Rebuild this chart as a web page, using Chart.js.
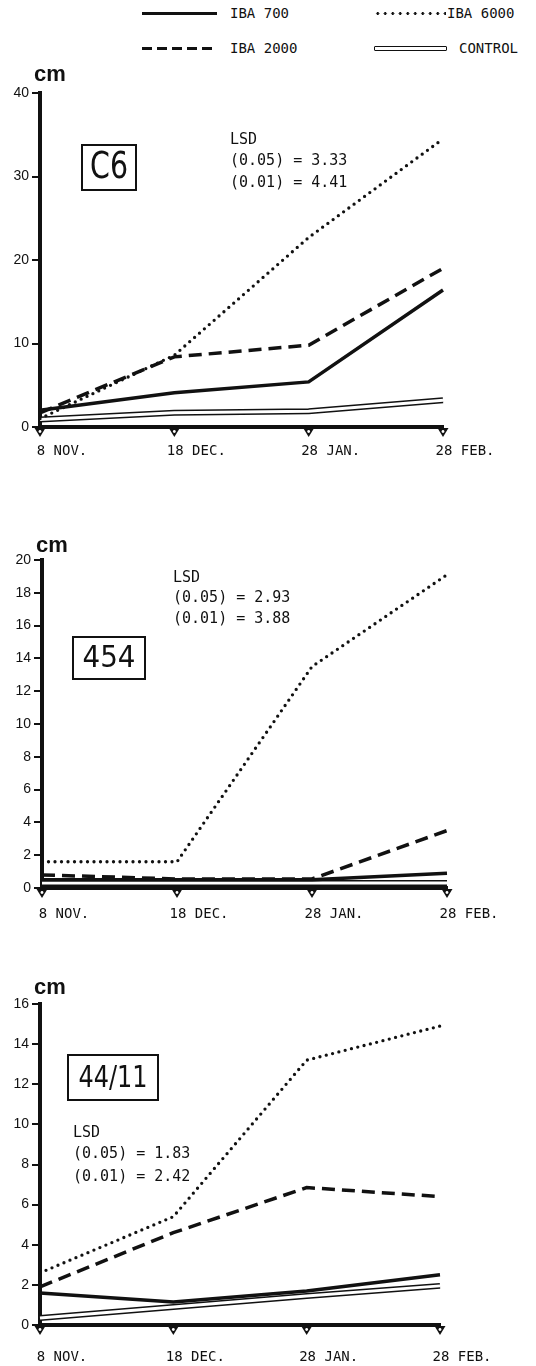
<!DOCTYPE html>
<html>
<head>
<meta charset="utf-8">
<script src="https://cdn.jsdelivr.net/npm/chart.js@4.4.0/dist/chart.umd.min.js"></script>
<style>
  html, body { margin: 0; padding: 0; background: #fff; }
  body { width: 536px; height: 1366px; position: relative; overflow: hidden;
         font-family: "DejaVu Sans Mono", monospace; color: #111; }
  .panel { position: absolute; left: 0; width: 536px; }
  .lg-text { position: absolute; font-size: 14px; line-height: 16px; white-space: pre; }
  .sw { position: absolute; }
  .sw-solid { height: 3px; background: #111; }
  .sw-dash { height: 3px; background: repeating-linear-gradient(90deg, #111 0 10px, transparent 10px 15px); }
  .sw-dot { height: 3px; background: radial-gradient(circle, #111 1.3px, transparent 1.6px) 0 0 / 7.5px 3px repeat-x; }
  .sw-ctrl { height: 3px; border: 1.5px solid #111; background: #fff; border-radius: 1px; }
</style>
</head>
<body>

<!-- legend -->
<div class="sw sw-solid" style="left:142px;top:12px;width:75px;"></div>
<div class="lg-text" style="left:230px;top:5px;">IBA 700</div>
<div class="sw sw-dot" style="left:374px;top:12px;width:72px;"></div>
<div class="lg-text" style="left:447px;top:5px;">IBA 6000</div>
<div class="sw sw-dash" style="left:142px;top:47px;width:75px;"></div>
<div class="lg-text" style="left:230px;top:40px;">IBA 2000</div>
<div class="sw sw-ctrl" style="left:374px;top:46px;width:71px;"></div>
<div class="lg-text" style="left:459px;top:40px;">CONTROL</div>

<div class="panel" style="top:60px;height:410px;"><canvas id="c6" width="536" height="410"></canvas></div>
<div class="panel" style="top:530px;height:400px;"><canvas id="p454" width="536" height="400"></canvas></div>
<div class="panel" style="top:970px;height:396px;"><canvas id="p4411" width="536" height="396"></canvas></div>

<script>
// sampling dates (shoot length in cm)
const dates = ['8 NOV.', '18 DEC.', '28 JAN.', '28 FEB.'];

// clone C6
const c6Iba700  = [2.0, 4.1, 5.4, 16.4];
const c6Iba2000 = [1.7, 8.4, 9.8, 19.0];
const c6Iba6000 = [1.0, 8.6, 22.7, 34.5];
const c6Control = [0.9, 1.7, 1.9, 3.2];
const c6YMax = 40, c6YStep = 10;
const c6Lsd = ['LSD', '(0.05) = 3.33', '(0.01) = 4.41'];

// clone 454
const p454Iba700  = [0.5, 0.5, 0.5, 0.9];
const p454Iba2000 = [0.8, 0.55, 0.55, 3.5];
const p454Iba6000 = [1.6, 1.6, 13.5, 19.1];
const p454Control = [0.3, 0.3, 0.3, 0.3];
const p454YMax = 20, p454YStep = 2;
const p454Lsd = ['LSD', '(0.05) = 2.93', '(0.01) = 3.88'];

// clone 44/11
const p4411Iba700  = [1.6, 1.15, 1.7, 2.5];
const p4411Iba2000 = [1.9, 4.6, 6.85, 6.4];
const p4411Iba6000 = [2.6, 5.4, 13.2, 14.9];
const p4411Control = [0.35, 0.9, 1.45, 1.95];
const p4411YMax = 16, p4411YStep = 2;
const p4411Lsd = ['LSD', '(0.05) = 1.83', '(0.01) = 2.42'];

const INK = '#111';

// downward triangles under each sampling date on the baseline
const dateMarkers = {
  id: 'dateMarkers',
  afterDraw(chart) {
    const ctx = chart.ctx, xs = chart.scales.x, b = chart.chartArea.bottom;
    ctx.save();
    xs.ticks.forEach((t, i) => {
      const x = xs.getPixelForTick(i);
      ctx.beginPath();
      ctx.moveTo(x - 5.5, b + 1);
      ctx.lineTo(x + 5.5, b + 1);
      ctx.lineTo(x, b + 10);
      ctx.closePath();
      ctx.fillStyle = INK;
      ctx.fill();
      ctx.beginPath();
      ctx.arc(x, b + 4.5, 1.4, 0, Math.PI * 2);
      ctx.fillStyle = '#fff';
      ctx.fill();
    });
    ctx.restore();
  }
};

// the control series is drawn as an open double line
const openLine = {
  id: 'openLine',
  afterDatasetDraw(chart, args) {
    const ds = chart.data.datasets[args.index];
    if (!ds.openLine) return;
    const pts = args.meta.data;
    const ctx = chart.ctx;
    ctx.save();
    ctx.beginPath();
    pts.forEach((p, i) => (i ? ctx.lineTo(p.x, p.y) : ctx.moveTo(p.x, p.y)));
    ctx.strokeStyle = '#fff';
    ctx.lineWidth = 3;
    ctx.lineJoin = 'round';
    ctx.lineCap = 'butt';
    ctx.stroke();
    ctx.restore();
  }
};

// unit label, clone label box and LSD values
const panelText = {
  id: 'panelText',
  afterDraw(chart, args, o) {
    const ctx = chart.ctx;
    ctx.save();
    ctx.fillStyle = INK;
    ctx.strokeStyle = INK;
    // unit
    ctx.font = 'bold 22px "Liberation Sans", Arial, sans-serif';
    ctx.textAlign = 'center';
    ctx.textBaseline = 'middle';
    ctx.fillText('cm', o.cm[0], o.cm[1]);
    // clone box
    const bx = o.box;
    ctx.lineWidth = 2;
    ctx.strokeRect(bx.x, bx.y, bx.w, bx.h);
    ctx.font = bx.size + 'px "DejaVu Sans", sans-serif';
    const mw = ctx.measureText(bx.text).width;
    ctx.save();
    ctx.translate(bx.x + bx.w / 2, bx.y + bx.h / 2 + 1);
    ctx.scale(bx.textW / mw, 1);
    ctx.fillText(bx.text, 0, 0);
    ctx.restore();
    // LSD
    ctx.font = '15px "DejaVu Sans Mono", monospace';
    ctx.textAlign = 'left';
    o.lsd.lines.forEach((s, i) => ctx.fillText(s, o.lsd.x, o.lsd.ys[i]));
    ctx.restore();
  }
};

function panel(id, geo, yMax, yStep, series, text) {
  const H = geo.height;
  const xHeight = geo.top + H - geo.bottom;
  const base = { fill: false, pointRadius: 0, tension: 0, clip: false, borderColor: INK,
                 borderJoinStyle: 'miter', borderCapStyle: 'butt' };
  // shift page coordinates into canvas coordinates
  const dy = v => v - geo.top;
  return new Chart(document.getElementById(id), {
    type: 'line',
    data: {
      labels: dates,
      datasets: [
        Object.assign({}, base, { label: 'IBA 700', data: series[0], borderWidth: 3.5 }),
        Object.assign({}, base, { label: 'IBA 2000', data: series[1], borderWidth: 3.5, borderDash: [13, 7] }),
        Object.assign({}, base, { label: 'IBA 6000', data: series[2], borderWidth: 3.3, borderDash: [0, 6.5], borderCapStyle: 'round' }),
        Object.assign({}, base, { label: 'CONTROL', data: series[3], borderWidth: 6, openLine: true, borderJoinStyle: 'round' })
      ]
    },
    options: {
      responsive: false,
      animation: false,
      events: [],
      layout: { padding: { top: geo.areaTop - geo.top, right: 536 - geo.right, left: 0, bottom: 0 } },
      plugins: {
        legend: { display: false },
        tooltip: { enabled: false },
        panelText: {
          cm: [text.cm[0], dy(text.cm[1])],
          box: Object.assign({}, text.box, { y: dy(text.box.y) }),
          lsd: { x: text.lsd.x, ys: text.lsd.ys.map(dy), lines: text.lsd.lines }
        }
      },
      scales: {
        x: {
          type: 'category',
          offset: false,
          afterFit(s) { s.height = xHeight; },
          // invisible ticks keep the date labels clear of the markers
          grid: { drawOnChartArea: false, drawTicks: true, tickLength: geo.xLabelPad, tickColor: 'rgba(0,0,0,0)' },
          border: { display: true, color: INK, width: 4 },
          ticks: {
            autoSkip: false, maxRotation: 0, color: INK, padding: 0, labelOffset: 22,
            font: { family: '"DejaVu Sans Mono", monospace', size: 14 }
          }
        },
        y: {
          min: 0, max: yMax,
          afterFit(s) { s.width = geo.left; },
          grid: { drawOnChartArea: false, drawTicks: true, tickLength: 8, color: INK, lineWidth: 2 },
          border: { display: true, color: INK, width: 4 },
          ticks: {
            stepSize: yStep, color: INK, padding: 3,
            font: { family: '"Liberation Sans", Arial, sans-serif', size: 14 }
          }
        }
      }
    },
    plugins: [dateMarkers, openLine, panelText]
  });
}

panel('c6',
  { top: 60, height: 410, areaTop: 93, bottom: 427, left: 40, right: 443, xLabelPad: 16 },
  c6YMax, c6YStep, [c6Iba700, c6Iba2000, c6Iba6000, c6Control],
  { cm: [50, 75],
    box: { text: 'C6', x: 82, y: 145, w: 54, h: 45, size: 38, textW: 38 },
    lsd: { x: 230, ys: [140, 161, 183], lines: c6Lsd } });

panel('p454',
  { top: 530, height: 400, areaTop: 560, bottom: 888, left: 42, right: 447, xLabelPad: 18 },
  p454YMax, p454YStep, [p454Iba700, p454Iba2000, p454Iba6000, p454Control],
  { cm: [52, 546],
    box: { text: '454', x: 73, y: 637, w: 72, h: 42, size: 30, textW: 53 },
    lsd: { x: 173, ys: [578, 598, 619], lines: p454Lsd } });

panel('p4411',
  { top: 970, height: 396, areaTop: 1004, bottom: 1325, left: 40, right: 440, xLabelPad: 24 },
  p4411YMax, p4411YStep, [p4411Iba700, p4411Iba2000, p4411Iba6000, p4411Control],
  { cm: [50, 988],
    box: { text: '44/11', x: 68, y: 1055, w: 90, h: 45, size: 31, textW: 69 },
    lsd: { x: 73, ys: [1133, 1154, 1177], lines: p4411Lsd } });
</script>
</body>
</html>
